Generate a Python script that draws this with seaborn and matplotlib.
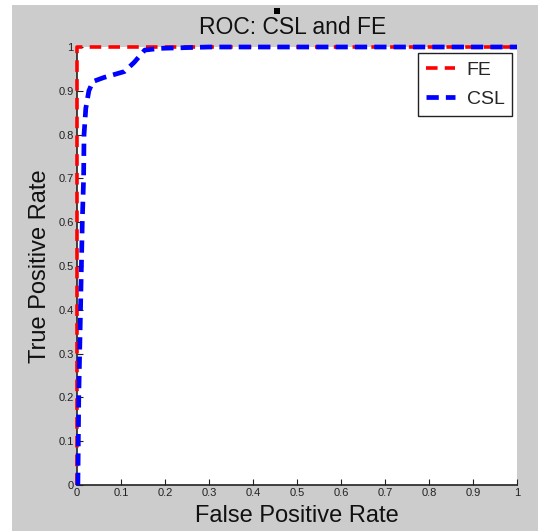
import matplotlib
matplotlib.use("Agg")
import matplotlib.pyplot as plt
import seaborn as sns
import pandas as pd
from matplotlib.patches import Rectangle

# Data
fe_fpr = [0.0, 0.0, 1.0]
fe_tpr = [0.0, 1.0, 1.0]
csl_fpr = [0.002, 0.003, 0.004, 0.006, 0.008, 0.010, 0.012, 0.015, 0.016, 0.020, 0.027,
           0.036, 0.060, 0.108, 0.130, 0.154, 0.190, 0.300, 1.0]
csl_tpr = [0.0, 0.10, 0.20, 0.30, 0.40, 0.50, 0.60, 0.70, 0.80, 0.86, 0.90,
           0.921, 0.930, 0.944, 0.965, 0.993, 0.997, 1.0, 1.0]
ticks = [0, 0.1, 0.2, 0.3, 0.4, 0.5, 0.6, 0.7, 0.8, 0.9, 1]
tick_labels = ["0", "0.1", "0.2", "0.3", "0.4", "0.5", "0.6", "0.7", "0.8", "0.9", "1"]

sns.set_style("white")
plt.rcParams['font.family'] = ['Liberation Sans', 'DejaVu Sans']

fig = plt.figure(figsize=(5.38, 5.31), dpi=100, facecolor="white")
W, H = 538, 531
fig.patches.append(Rectangle((12 / W, 0), 1 - 12 / W, (H - 5) / H, transform=fig.transFigure,
                             facecolor="#cccccc", edgecolor="none", zorder=-10))
fig.patches.append(Rectangle((274 / W, (H - 14) / H), 6 / W, 6 / H, transform=fig.transFigure,
                             facecolor="black", edgecolor="none", zorder=-5))

ax = fig.add_axes([77 / W, (H - 485) / H, 440 / W, 438 / H])
ax.set_facecolor("white")

fe = pd.DataFrame({"fpr": fe_fpr, "tpr": fe_tpr})
csl = pd.DataFrame({"fpr": csl_fpr, "tpr": csl_tpr})

sns.lineplot(data=fe, x="fpr", y="tpr", ax=ax, sort=False, estimator=None,
             color="#ff0000", linewidth=2.6, linestyle=(0, (3.2, 2.0)), label="FE",
             clip_on=False, zorder=3)
sns.lineplot(data=csl, x="fpr", y="tpr", ax=ax, sort=False, estimator=None,
             color="#0000ff", linewidth=3.4, linestyle=(0, (2.6, 1.5)), label="CSL",
             clip_on=False, zorder=4)

ax.set_xlim(0, 1)
ax.set_ylim(0, 1)
ax.set_xticks(ticks)
ax.set_xticklabels(tick_labels)
ax.set_yticks(ticks)
ax.set_yticklabels(tick_labels)
ax.tick_params(direction="in", length=4, width=0.8, labelsize=8, colors="#222222",
               bottom=True, left=True, top=False, right=False, pad=2.5)
for s in ["top", "right"]:
    ax.spines[s].set_visible(False)
for s in ["left", "bottom"]:
    ax.spines[s].set_color("#222222")
    ax.spines[s].set_linewidth(1.2)

ax.set_title("ROC: CSL and FE", fontsize=16.5, pad=9, color="#111111", x=0.489)
ax.set_xlabel("False Positive Rate", fontsize=17, labelpad=4.5, color="#111111")
ax.set_ylabel("True Positive Rate", fontsize=17, labelpad=5, color="#111111")

leg = ax.legend(loc="upper right", bbox_to_anchor=(0.989, 0.986), borderaxespad=0,
                fontsize=14, frameon=True, fancybox=False, handlelength=1.5,
                borderpad=0.4, labelspacing=0.62, handletextpad=0.6)
leg.get_frame().set_edgecolor("#222222")
leg.get_frame().set_linewidth(1.0)
leg.get_frame().set_facecolor("white")
leg.get_frame().set_alpha(1.0)

fig.savefig("out.png", dpi=100, facecolor=fig.get_facecolor())
